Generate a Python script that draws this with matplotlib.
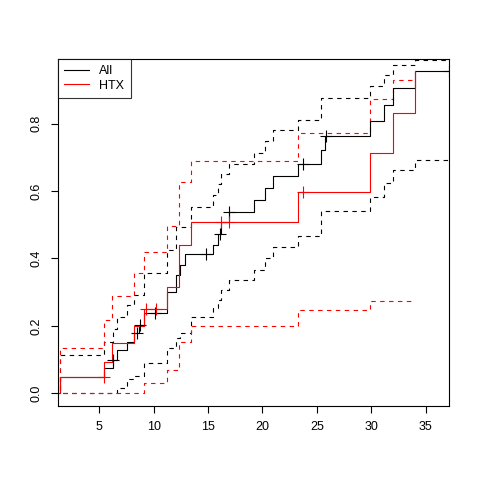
import matplotlib
matplotlib.use("Agg")
import matplotlib.pyplot as plt
from matplotlib.lines import Line2D

plt.rcParams["font.family"] = ["Liberation Sans", "DejaVu Sans"]

# ---- data ----
all_t = [0, 1.4, 5.4, 6.3, 6.68, 7.6, 8.2, 8.68, 9.13, 11.25, 12.05, 12.4, 12.9,
         15.42, 15.88, 16.2, 16.96, 19.26, 20.2, 20.94, 23.24, 25.39, 25.7, 29.83,
         31.2, 31.97, 33.97, 37.13]
all_p = [0, 0.049, 0.074, 0.099, 0.128, 0.153, 0.178, 0.202, 0.237, 0.30, 0.35, 0.38, 0.412,
         0.441, 0.474, 0.508, 0.538, 0.573, 0.609, 0.644, 0.681, 0.721, 0.762, 0.808,
         0.856, 0.906, 0.955, 0.955]

all_up_t = [0, 1.4, 5.4, 6.3, 6.68, 7.6, 8.2, 9.13, 11.25, 12.05, 13.43, 15.42, 15.88,
            16.2, 16.96, 19.26, 20.2, 20.94, 23.24, 25.39, 29.83, 31.2, 31.97, 33.97, 37.13]
all_up_p = [0, 0.114, 0.153, 0.19, 0.227, 0.262, 0.291, 0.357, 0.425, 0.494, 0.553, 0.588, 0.622,
            0.652, 0.681, 0.714, 0.748, 0.780, 0.81, 0.876, 0.913, 0.945, 0.975, 0.99, 0.99]

all_lo_t = [0, 6.68, 7.6, 8.2, 9.13, 11.25, 12.05, 12.4, 13.43, 15.42, 15.88, 16.2, 16.96,
            19.26, 20.2, 20.94, 23.24, 25.39, 29.83, 31.2, 31.97, 33.97, 37.13]
all_lo_p = [0, 0.015, 0.042, 0.052, 0.09, 0.133, 0.165, 0.178, 0.225, 0.252, 0.276, 0.306, 0.336,
            0.367, 0.4, 0.433, 0.466, 0.541, 0.581, 0.624, 0.664, 0.691, 0.691]

htx_t = [0, 1.4, 5.4, 6.22, 8.2, 9.13, 11.25, 12.3, 13.43, 23.24, 29.83, 31.97, 33.97]
htx_p = [0, 0.049, 0.094, 0.148, 0.2, 0.25, 0.316, 0.441, 0.507, 0.596, 0.714, 0.833, 0.955]

htx_up_t = [0, 1.4, 5.4, 6.22, 8.2, 9.13, 11.25, 12.3, 13.43, 23.24, 29.83, 31.97, 33.97]
htx_up_p = [0, 0.133, 0.217, 0.288, 0.356, 0.42, 0.496, 0.627, 0.689, 0.773, 0.872, 0.931, 0.931]

htx_lo_t = [0, 9.13, 11.25, 12.3, 13.43, 23.24, 29.83, 33.97]
htx_lo_p = [0, 0.03, 0.069, 0.153, 0.2, 0.247, 0.273, 0.273]

all_cens_t = [6.3, 8.5, 8.75, 10.1, 14.8, 16.1, 16.96, 23.7, 25.8, 37.13]
all_cens_p = [0.099, 0.178, 0.202, 0.237, 0.412, 0.474, 0.538, 0.681, 0.762, 0.955]
htx_cens_t = [5.45, 9.3, 10.2, 16.2, 16.9, 23.7]
htx_cens_p = [0.049, 0.25, 0.25, 0.507, 0.507, 0.596]

x_ticks = [5, 10, 15, 20, 25, 30, 35]
y_ticks = [0.0, 0.2, 0.4, 0.6, 0.8]
y_labels = ["0.0", "0.2", "0.4", "0.6", "0.8"]
legend_labels = ["All", "HTX"]

# ---- figure ----
fig = plt.figure(figsize=(4.8, 4.8), dpi=100)
ax = fig.add_axes([58/480, 1-406/480, (449-58)/480, (406-59)/480])

lw = 0.8
dash = (0, (4, 4))
ax.step(all_up_t, all_up_p, where="post", color="black", lw=lw, linestyle=dash)
ax.step(all_lo_t, all_lo_p, where="post", color="black", lw=lw, linestyle=dash)
ax.step(htx_up_t, htx_up_p, where="post", color="red", lw=lw, linestyle=dash)
ax.step(htx_lo_t, htx_lo_p, where="post", color="red", lw=lw, linestyle=dash)
ax.step(all_t, all_p, where="post", color="black", lw=lw)
ax.step(htx_t, htx_p, where="post", color="red", lw=lw)
ax.plot(all_cens_t, all_cens_p, linestyle="none", marker="+", color="black", ms=8, mew=0.8)
ax.plot(htx_cens_t, htx_cens_p, linestyle="none", marker="+", color="red", ms=8, mew=0.8)

ax.set_xlim(1.22, 37.13)
ax.set_ylim(-0.038, 0.992)
ax.set_xticks(x_ticks)
ax.set_xticklabels([str(v) for v in x_ticks])
ax.set_yticks(y_ticks)
ax.set_yticklabels(y_labels, rotation=90, va="center")
ax.tick_params(direction="out", length=5, width=0.8, labelsize=9, pad=6)
for s in ax.spines.values():
    s.set_linewidth(0.8)
    s.set_color("black")

handles = [Line2D([0], [0], color="black", lw=lw), Line2D([0], [0], color="red", lw=lw)]
leg = ax.legend(handles, legend_labels, loc="upper left", fontsize=9, frameon=True,
                fancybox=False, borderaxespad=0, handlelength=2.0, handletextpad=0.8,
                borderpad=0.5, labelspacing=0.2)
leg.get_frame().set_edgecolor("black")
leg.get_frame().set_linewidth(0.8)

fig.savefig("out.png", dpi=100)
